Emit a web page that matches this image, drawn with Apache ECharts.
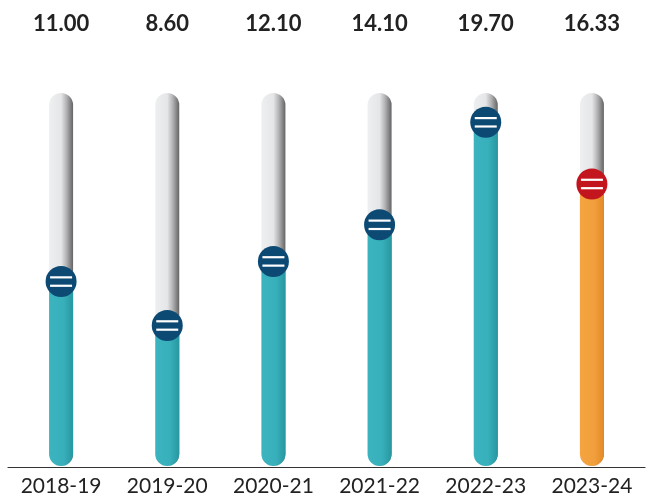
<!DOCTYPE html>
<html>
<head>
<meta charset="utf-8">
<script src="https://cdn.jsdelivr.net/npm/echarts@6/dist/echarts.min.js"></script>
<style>
  html, body { margin: 0; padding: 0; background: #fff; }
  #chart { width: 651px; height: 500px; }
</style>
</head>
<body>
<div id="chart"></div>
<script>
// data
const years = ['2018-19', '2019-20', '2020-21', '2021-22', '2022-23', '2023-24'];
const values = [11.00, 8.60, 12.10, 14.10, 19.70, 16.33];
const highlight = [false, false, false, false, false, true];

// visible value range of the tracks
const Y_MIN = 0.87;
const Y_MAX = 21.3;

const chart = echarts.init(document.getElementById('chart'));

const BAR_W = 24;

function grad(stops) {
    return new echarts.graphic.LinearGradient(0, 0, 1, 0, stops);
}

const trackFill = () => grad([
    { offset: 0, color: '#eeeff1' },
    { offset: 0.5, color: '#e5e6e8' },
    { offset: 0.72, color: '#b4b4b6' },
    { offset: 1, color: '#646464' }
]);
const tealFill = () => grad([
    { offset: 0, color: '#3bb4bf' },
    { offset: 0.6, color: '#38b0bb' },
    { offset: 1, color: '#2797a1' }
]);
const orangeFill = () => grad([
    { offset: 0, color: '#f5a440' },
    { offset: 0.6, color: '#f19f3c' },
    { offset: 1, color: '#e28a27' }
]);

function renderItem(params, api) {
    const i = api.value(0);
    const v = api.value(1);
    const hot = highlight[params.dataIndex];
    const base = api.coord([i, Y_MIN]);
    const top = api.coord([i, Y_MAX]);
    const pt = api.coord([i, v]);
    const x = base[0] - BAR_W / 2;
    const r = 15.5;
    return {
        type: 'group',
        children: [
            {
                type: 'rect',
                shape: { x: x, y: top[1], width: BAR_W, height: base[1] - 1 - top[1], r: BAR_W / 2 },
                style: { fill: trackFill() }
            },
            {
                type: 'rect',
                shape: { x: x, y: pt[1], width: BAR_W, height: base[1] - 1 - pt[1], r: [0, 0, BAR_W / 2, BAR_W / 2] },
                style: { fill: hot ? orangeFill() : tealFill() }
            },
            {
                type: 'circle',
                shape: { cx: pt[0], cy: pt[1], r: r },
                style: { fill: hot ? '#c3151d' : '#0c4a74' }
            },
            {
                type: 'line',
                shape: { x1: pt[0] - 11, y1: pt[1] - 4.2, x2: pt[0] + 11, y2: pt[1] - 4.2 },
                style: { stroke: '#fff', lineWidth: 2.2 }
            },
            {
                type: 'line',
                shape: { x1: pt[0] - 11, y1: pt[1] + 4.2, x2: pt[0] + 11, y2: pt[1] + 4.2 },
                style: { stroke: '#fff', lineWidth: 2.2 }
            }
        ]
    };
}

const option = {
    animation: false,
    grid: { left: 8, right: 6, top: 93, bottom: 33 },
    xAxis: [
        {
            type: 'category',
            data: years,
            axisLine: { lineStyle: { color: '#333', width: 1.2 } },
            axisTick: { show: false },
            axisLabel: {
                margin: 9,
                color: '#222',
                fontFamily: 'Lato',
                fontSize: 21
            }
        },
        {
            type: 'category',
            position: 'top',
            data: values.map(v => v.toFixed(2)),
            axisLine: { show: false },
            axisTick: { show: false },
            axisLabel: {
                margin: 58,
                color: '#222',
                fontFamily: 'Lato',
                fontWeight: 'bold',
                fontSize: 22
            }
        }
    ],
    yAxis: {
        type: 'value',
        min: Y_MIN,
        max: Y_MAX,
        show: false
    },
    series: [
        {
            type: 'custom',
            renderItem: renderItem,
            clip: false,
            data: values.map((v, i) => [i, v])
        }
    ]
};

chart.setOption(option);
</script>
</body>
</html>
